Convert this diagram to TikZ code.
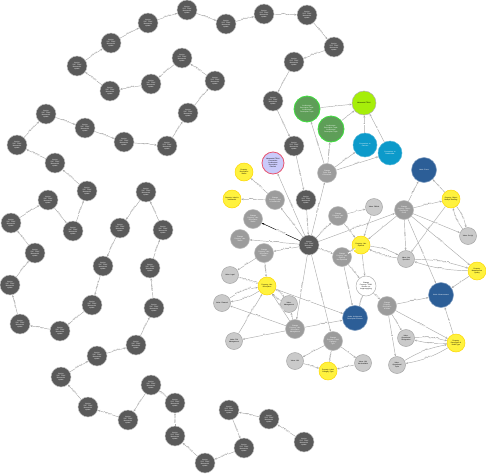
\documentclass[tikz,border=0pt]{standalone}
\usepackage{fontspec}
\setmainfont{Liberation Sans}
\usepackage{tikz}
\usetikzlibrary{arrows.meta}

\definecolor{verGray}{HTML}{5A5A5A}
\definecolor{chgGray}{HTML}{9C9C9C}
\definecolor{valGray}{HTML}{CACACA}
\definecolor{propYel}{HTML}{FFF23E}
\definecolor{tupGreen}{HTML}{5E9E58}
\definecolor{tupEdge}{HTML}{3FE03F}
\definecolor{metaLime}{HTML}{A6EE0A}
\definecolor{conCyan}{HTML}{0C9ACA}
\definecolor{nodeBlue}{HTML}{2C5E97}
\definecolor{lavFill}{HTML}{CACAFA}
\definecolor{lavEdge}{HTML}{E8546E}

\begin{document}
\begin{tikzpicture}
[x=1pt,y=-1pt, % toạ độ theo điểm ảnh
base/.style={circle,inner sep=0pt,line width=0.5pt,align=center,font=\fontsize{1.7}{2}\selectfont},
ver/.style={base,fill=verGray,draw=gray!45,minimum size=20pt,text=white}, % phiên bản
chg/.style={base,fill=chgGray,draw=gray!55,minimum size=19pt,text=white}, % thay đổi
val/.style={base,fill=valGray,draw=gray!70,minimum size=17pt,text=black}, % giá trị
prop/.style={base,fill=propYel,draw=yellow!75!orange,minimum size=18pt,text=black}, % thuộc tính
tup/.style={base,fill=tupGreen,draw=tupEdge,line width=0.8pt,minimum size=26pt,text=white},
meta/.style={base,fill=metaLime,draw=gray!60,minimum size=24pt,text=black},
con/.style={base,fill=conCyan,draw=conCyan!70!white,minimum size=24pt,text=white},
nod/.style={base,fill=nodeBlue,draw=nodeBlue!60!white,minimum size=25pt,text=white},
lav/.style={base,fill=lavFill,draw=lavEdge,line width=0.8pt,minimum size=22pt,text=black},
wht/.style={base,fill=white,draw=gray!60,minimum size=20pt,text=black},
rel/.style={draw=gray!65,line width=0.45pt,-{Stealth[length=2.4pt,width=2pt]}}, % cạnh
lbl/.style={midway,sloped,fill=white,inner sep=0.2pt,text=gray!40!black,font=\fontsize{1.5}{1.5}\selectfont} % nhãn cạnh
]
\useasboundingbox (0,0) rectangle (486,474); % khung

% chuỗi phiên bản
\foreach \x/\y [count=\i] in {309/245,306/200,294/146,273/101,294/62,334/47,307/15,264/14,226/24,187/10,
  148/23,111/43,77/66,110/91,151/84,182/58,215/81,188/113,167/146,124/142,
  85/128,46/114,17/145,55/163,87/191,73/231,48/200,11/223,35/253,10/285,
  20/324,60/331,92/305,103/266,120/228,146/192,163/230,150/268,154/308,136/345,
  97/356,61/377,88/407,128/420,151/385,175/403,175/436,205/463,244/448,229/410,
  269/419,304/442}
  \node[ver] (v\i) at (\x,\y) {Version\\2017 TRAK\\Metamodel\\update};
\foreach \i [count=\j from 2] in {1,...,51}
  \draw[rel] (v\j) -- node[lbl]{PREVIOUS} (v\i);

% nút màu
\node[meta] (meta) at (364,103) {Metamodel TRAK};
\node[tup] (tup1) at (307,109) {Architecture\\Description Tuple:\\Architecture\\Description Tuple};
\node[tup] (tup2) at (331,129) {Architecture\\Description Tuple:\\Architecture\\Description Tuple};
\node[con] (con1) at (365,145) {Connection: to\\Concern};
\node[con] (con2) at (390,153) {Connection: to\\Stakeholder};
\node[nod] (nEvent) at (424,170) {Node: Event};
\node[nod] (nMeas) at (441,295) {Node: Measurement};
\node[nod] (nArch) at (355,318) {Node: Architecture\\Description Element};
\node[lav] (lav) at (273,163) {Metamodel TRAK\\Connection\\Architecture\\Description\\Element};
\node[wht] (chgW) at (366,286) {Change\\Property: TRAK\\Version: no\\longer applying};

% thuộc tính
\node[prop] (p1) at (244,172) {Property:\\Description\\Status};
\node[prop] (p2) at (232,199) {Property: Label in\\metamodel};
\node[prop] (p3) at (451,199) {Property: Object\\Multiple Ranking};
\node[prop] (p4) at (361,245) {Property: Use\\Optional};
\node[prop] (p5) at (477,271) {Property:\\Measurement\\Quality};
\node[prop] (p6) at (267,286) {Property: Use\\Description};
\node[prop] (p7) at (328,371) {Property: Label\\Category Type};
\node[prop] (p8) at (456,343) {Property:\\Description of\\Node Type};

% thay đổi
\node[chg] (c1) at (275,200) {Change\\Property: Label\\in metamodel};
\node[chg] (c2) at (253,219) {Change\\Property: Use\\Description\\Status};
\node[chg] (c3) at (240,239) {Change\\Property: Use\\Status};
\node[chg] (c4) at (264,253) {Change\\Property: Use\\Description\\Status};
\node[chg] (c5) at (327,173) {Change\\Tuple: Add\\Connection};
\node[chg] (c6) at (404,210) {Change\\Property: Object\\Ranking for\\Event};
\node[chg] (c7) at (338,216) {Change\\Property: Use\\Optional};
\node[chg] (c8) at (342,257) {Change\\Property: Use\\Optional\\Not Specified};
\node[chg] (c9) at (387,306) {Change\\Property:\\Description\\of Node};
\node[chg] (c10) at (295,329) {Change\\Property: Use\\Description\\Management};
\node[chg] (c11) at (333,341) {Change\\Property: Label\\Category\\Type};

% giá trị
\node[val] (a1) at (374,207) {Value: Official};
\node[val] (a2) at (468,236) {Value: Set (a)};
\node[val] (a3) at (406,259) {Value: Not\\Specified};
\node[val] (a4) at (230,275) {Value: Legal};
\node[val] (a5) at (222,303) {Value: Planned};
\node[val] (a6) at (289,304) {Value:\\Management};
\node[val] (a7) at (234,341) {Value: PM\\Management};
\node[val] (a8) at (295,361) {Value: N/A};
\node[val] (a9) at (363,363) {Value: N/A\\Not Available};
\node[val] (a10) at (406,338) {Value:\\Operational\\Designation};
\node[val] (a11) at (397,365) {Value:\\Operational\\Tuple};

% cạnh
\draw[rel] (tup1) -- node[lbl]{IN} (meta);
\draw[rel] (tup2) -- node[lbl]{IN} (meta);
\draw[rel] (con1) -- node[lbl]{IN} (meta);
\draw[rel] (con2) -- node[lbl]{IN} (meta);
\draw[rel] (c5) -- node[lbl]{CHANGED} (tup1);
\draw[rel] (c5) -- node[lbl]{CHANGED} (tup2);
\draw[rel] (c5) -- node[lbl]{ADDED} (con1);
\draw[rel] (c5) -- node[lbl]{ADDED} (con2);
\draw[rel] (v1) -- node[lbl]{HAS\_CHANGE} (c5);
\draw[rel] (v1) -- node[lbl]{DESCRIBES} (lav);
\draw[rel] (v1) -- node[lbl]{HAS\_CHANGE} (c1);
\draw[rel,draw=black] (v1) -- node[lbl]{HAS\_CHANGE} (c2);
\draw[rel] (v1) -- node[lbl]{HAS\_CHANGE} (c3);
\draw[rel] (v1) -- node[lbl]{HAS\_CHANGE} (c4);
\draw[rel] (v1) -- node[lbl]{HAS\_CHANGE} (c7);
\draw[rel] (v1) -- node[lbl]{HAS\_CHANGE} (c8);
\draw[rel] (v1) -- node[lbl]{HAS\_CHANGE} (c6);
\draw[rel] (v1) -- node[lbl]{HAS\_CHANGE} (c10);
\draw[rel] (v1) -- node[lbl]{HAS\_CHANGE} (c11);
\draw[rel] (c1) -- node[lbl]{PROPERTY} (p1);
\draw[rel] (c1) -- node[lbl]{PROPERTY} (p2);
\draw[rel] (c4) -- node[lbl]{PROPERTY} (p6);
\draw[rel] (c4) -- node[lbl]{FROM} (a4);
\draw[rel] (a4) -- node[lbl]{ALLOWED\_VALUE\_FOR} (p6);
\draw[rel] (a5) to[bend left=12] node[lbl]{ALLOWED\_VALUE\_FOR} (p6);
\draw[rel] (p6) to[bend left=12] node[lbl]{DEFAULT} (a5);
\draw[rel] (a6) to[bend left=15] node[lbl]{ALLOWED} (p6);
\draw[rel] (p6) to[bend left=15] node[lbl]{DEFAULT} (a6);
\draw[rel] (a7) -- node[lbl]{ALLOWED\_VALUE\_FOR} (p6);
\draw[rel] (c10) -- node[lbl]{PROPERTY} (p6);
\draw[rel] (c10) -- node[lbl]{FROM} (a5);
\draw[rel] (c10) -- node[lbl]{TO} (a7);
\draw[rel] (c10) -- node[lbl]{TO} (a6);
\draw[rel] (c10) -- node[lbl]{CHANGED} (nArch);
\draw[rel] (p6) -- node[lbl]{OF} (nArch);
\draw[rel] (c7) -- node[lbl]{TO} (a1);
\draw[rel] (c7) -- node[lbl]{PROPERTY} (p4);
\draw[rel] (a1) -- node[lbl]{ALLOWED} (p4);
\draw[rel] (c8) -- node[lbl]{PROPERTY} (p4);
\draw[rel] (c8) -- node[lbl]{CHANGED} (chgW);
\draw[rel] (p4) -- node[lbl]{OF} (chgW);
\draw[rel] (a3) to[bend left=10] node[lbl]{ALLOWED\_VALUE\_FOR} (p4);
\draw[rel] (p4) to[bend left=10] node[lbl]{DEFAULT} (a3);
\draw[rel] (c8) -- node[lbl]{CHANGED} (nArch);
\draw[rel] (chgW) -- node[lbl]{CHANGED} (nArch);
\draw[rel] (c6) -- node[lbl]{CHANGED} (nEvent);
\draw[rel] (c6) -- node[lbl]{PROPERTY} (p3);
\draw[rel] (p3) -- node[lbl]{OF} (nEvent);
\draw[rel] (c6) -- node[lbl]{TO} (a2);
\draw[rel] (a2) to[bend left=12] node[lbl]{ALLOWED} (p3);
\draw[rel] (p3) to[bend left=12] node[lbl]{DEFAULT} (a2);
\draw[rel] (c6) -- node[lbl]{FROM} (a3);
\draw[rel] (c6) -- node[lbl]{USE} (p4);
\draw[rel] (p3) -- node[lbl]{ALLOWED} (a3);
\draw[rel] (c6) -- node[lbl]{PROPERTY} (p5);
\draw[rel] (a3) to[bend left=8] node[lbl]{ALLOWED\_VALUE\_FOR} (p5);
\draw[rel] (p5) to[bend left=8] node[lbl]{DEFAULT} (a3);
\draw[rel] (c6) -- node[lbl]{CHANGED} (nMeas);
\draw[rel] (p5) -- node[lbl]{OF} (nMeas);
\draw[rel] (c9) -- node[lbl]{CHANGED} (nMeas);
\draw[rel] (chgW) -- node[lbl]{NEXT} (c9);
\draw[rel] (c9) -- node[lbl]{PROPERTY} (p8);
\draw[rel] (p8) -- node[lbl]{OF} (nMeas);
\draw[rel] (c9) -- node[lbl]{FROM} (a10);
\draw[rel] (c9) -- node[lbl]{TO} (a11);
\draw[rel] (a10) to[bend left=8] node[lbl]{ALLOWED\_VALUE\_FOR} (p8);
\draw[rel] (p8) to[bend left=8] node[lbl]{DEFAULT} (a10);
\draw[rel] (a11) to[bend left=10] node[lbl]{ALLOWED} (p8);
\draw[rel] (p8) to[bend left=10] node[lbl]{DEFAULT} (a11);
\draw[rel] (c11) -- node[lbl]{FROM} (a8);
\draw[rel] (c11) -- node[lbl]{PROPERTY} (p7);
\draw[rel] (c11) -- node[lbl]{TO} (a9);
\draw[rel] (a8) -- node[lbl]{ALLOWED} (p7);
\draw[rel] (a9) -- node[lbl]{ALLOWED} (p7);
\end{tikzpicture}
\end{document}
